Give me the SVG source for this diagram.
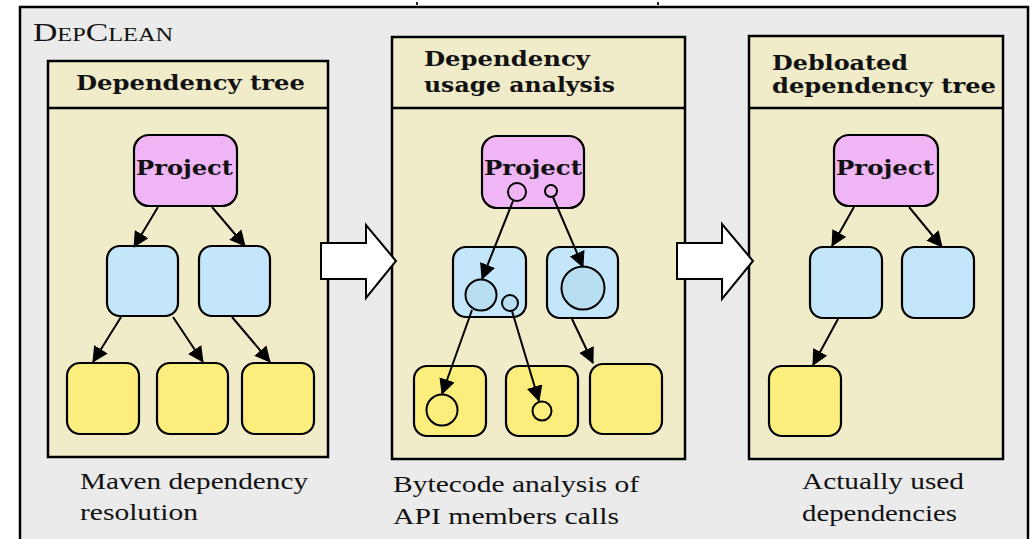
<svg xmlns="http://www.w3.org/2000/svg" width="1033" height="539" viewBox="0 0 1033 539">
  <defs>
    <style>
      .frame { fill: #ebebeb; stroke: #000; stroke-width: 2.5; }
      .panel { fill: #f0ecca; stroke: #000; stroke-width: 2.5; }
      .sep { stroke: #000; stroke-width: 2.5; }
      .proj { fill: #f0b5f5; stroke: #000; stroke-width: 2.2; }
      .mod { fill: #c4e6fa; stroke: #000; stroke-width: 2.2; }
      .leaf { fill: #fbee7c; stroke: #000; stroke-width: 2.2; }
      .c-proj { fill: #f0b5f5; stroke: #000; stroke-width: 2; }
      .c-mod { fill: #b8def2; stroke: #000; stroke-width: 2; }
      .c-leaf { fill: #fbee7c; stroke: #000; stroke-width: 2; }
      .edge { fill: none; stroke: #000; stroke-width: 2; marker-end: url(#head); }
      .step { fill: #fff; stroke: #000; stroke-width: 2; stroke-linejoin: miter; }
      .head { font-family: "DejaVu Serif", "Liberation Serif", serif; font-weight: bold; font-size: 21px; fill: #111; }
      .lbl { font-family: "DejaVu Serif", "Liberation Serif", serif; font-weight: bold; font-size: 20px; fill: #111; }
      .cap { font-family: "Liberation Serif", serif; font-size: 24px; fill: #111; }
      .title { font-family: "Liberation Serif", serif; font-size: 25px; font-variant: small-caps; fill: #111; }
    </style>
    <marker id="head" markerUnits="userSpaceOnUse" viewBox="0 0 16 16" refX="15" refY="8" markerWidth="16" markerHeight="16" orient="auto">
      <path d="M0,0 L16,8 L0,16 Z" fill="#000"/>
    </marker>
  </defs>

  <!-- outer tool frame -->
  <g id="depclean">
    <rect class="frame" x="20" y="7" width="1008" height="545"/>
    <text class="title" x="33" y="41" textLength="140" lengthAdjust="spacingAndGlyphs">DepClean</text>
    <rect x="416" y="2" width="2" height="3" fill="#222"/>
    <rect x="657" y="2" width="2" height="3" fill="#222"/>
  </g>

  <!-- stage 1: dependency tree -->
  <g id="panel-tree">
    <rect class="panel" x="48" y="61" width="280" height="396"/>
    <line class="sep" x1="48" y1="108" x2="328" y2="108"/>
    <text class="head" x="76" y="90" textLength="229" lengthAdjust="spacingAndGlyphs">Dependency tree</text>
    <text class="cap" x="80" y="489" textLength="228" lengthAdjust="spacingAndGlyphs">Maven dependency</text>
    <text class="cap" x="80" y="520" textLength="118" lengthAdjust="spacingAndGlyphs">resolution</text>
  </g>

  <!-- stage 2: usage analysis -->
  <g id="panel-usage">
    <rect class="panel" x="392" y="37" width="293" height="422"/>
    <line class="sep" x1="392" y1="108" x2="685" y2="108"/>
    <text class="head" x="424" y="66" textLength="166" lengthAdjust="spacingAndGlyphs">Dependency</text>
    <text class="head" x="424" y="92" textLength="191" lengthAdjust="spacingAndGlyphs">usage analysis</text>
    <text class="cap" x="393" y="492" textLength="246" lengthAdjust="spacingAndGlyphs">Bytecode analysis of</text>
    <text class="cap" x="393" y="524" textLength="226" lengthAdjust="spacingAndGlyphs">API members calls</text>
  </g>

  <!-- stage 3: debloated tree -->
  <g id="panel-debloated">
    <rect class="panel" x="749" y="36" width="254" height="423"/>
    <line class="sep" x1="749" y1="108" x2="1003" y2="108"/>
    <text class="head" x="772" y="70" textLength="136" lengthAdjust="spacingAndGlyphs">Debloated</text>
    <text class="head" x="772" y="93" textLength="224" lengthAdjust="spacingAndGlyphs">dependency tree</text>
    <text class="cap" x="802" y="489" textLength="162" lengthAdjust="spacingAndGlyphs">Actually used</text>
    <text class="cap" x="802" y="521" textLength="155" lengthAdjust="spacingAndGlyphs">dependencies</text>
  </g>

  <!-- stage 1 nodes -->
  <g id="t-project">
    <rect class="proj" x="134" y="135" width="103" height="71" rx="15"/>
    <text class="lbl" x="136" y="175" textLength="97" lengthAdjust="spacingAndGlyphs">Project</text>
  </g>
  <g id="t-dep-a"><rect class="mod" x="107" y="246" width="71" height="70" rx="13"/></g>
  <g id="t-dep-b"><rect class="mod" x="199" y="246" width="71" height="70" rx="13"/></g>
  <g id="t-trans-a"><rect class="leaf" x="67" y="363" width="72" height="71" rx="13"/></g>
  <g id="t-trans-b"><rect class="leaf" x="157" y="363" width="71" height="71" rx="13"/></g>
  <g id="t-trans-c"><rect class="leaf" x="242" y="363" width="72" height="71" rx="13"/></g>

  <!-- stage 2 nodes -->
  <g id="u-project">
    <rect class="proj" x="482" y="136" width="102" height="72" rx="15"/>
    <text class="lbl" x="484" y="175" textLength="98" lengthAdjust="spacingAndGlyphs">Project</text>
    <circle class="c-proj" cx="517" cy="192" r="9"/>
    <circle class="c-proj" cx="551" cy="191" r="6"/>
  </g>
  <g id="u-dep-a">
    <rect class="mod" x="453" y="247" width="73" height="70" rx="13"/>
    <circle class="c-mod" cx="481" cy="295" r="15.5"/>
    <circle class="c-mod" cx="510" cy="303" r="8"/>
  </g>
  <g id="u-dep-b">
    <rect class="mod" x="547" y="247" width="71" height="71" rx="13"/>
    <circle class="c-mod" cx="583" cy="288" r="21.5"/>
  </g>
  <g id="u-trans-a">
    <rect class="leaf" x="414" y="366" width="72" height="70" rx="13"/>
    <circle class="c-leaf" cx="442" cy="410" r="15.5"/>
  </g>
  <g id="u-trans-b">
    <rect class="leaf" x="506" y="366" width="72" height="70" rx="13"/>
    <circle class="c-leaf" cx="542" cy="411" r="9.5"/>
  </g>
  <g id="u-trans-c"><rect class="leaf" x="590" y="364" width="72" height="70" rx="13"/></g>

  <!-- stage 3 nodes -->
  <g id="d-project">
    <rect class="proj" x="834" y="135" width="104" height="71" rx="15"/>
    <text class="lbl" x="836" y="175" textLength="98" lengthAdjust="spacingAndGlyphs">Project</text>
  </g>
  <g id="d-dep-a"><rect class="mod" x="810" y="247" width="72" height="71" rx="13"/></g>
  <g id="d-dep-b"><rect class="mod" x="902" y="247" width="72" height="71" rx="13"/></g>
  <g id="d-trans-a"><rect class="leaf" x="769" y="366" width="72" height="70" rx="13"/></g>

  <!-- dependency and call edges -->
  <g id="connectors">
    <line class="edge" x1="158" y1="207" x2="134" y2="247"/>
    <line class="edge" x1="212" y1="207" x2="245" y2="246"/>
    <line class="edge" x1="121" y1="317" x2="93" y2="362"/>
    <line class="edge" x1="173" y1="317" x2="203" y2="362"/>
    <line class="edge" x1="232" y1="317" x2="270" y2="362"/>

    <line class="edge" x1="513" y1="201" x2="482" y2="279"/>
    <line class="edge" x1="553" y1="197" x2="583" y2="267"/>
    <line class="edge" x1="472" y1="310" x2="442" y2="394"/>
    <line class="edge" x1="512" y1="311" x2="539" y2="401"/>
    <line class="edge" x1="572" y1="319" x2="593" y2="363"/>

    <line class="edge" x1="854" y1="207" x2="832" y2="246"/>
    <line class="edge" x1="909" y1="207" x2="942" y2="247"/>
    <line class="edge" x1="838" y1="319" x2="813" y2="365"/>

    <!-- stage transitions -->
    <path class="step" d="M321,243 L366,243 L366,225 L396,261 L366,298 L366,279 L321,279 Z"/>
    <path class="step" d="M677,243 L722,243 L722,224 L753,261 L722,299 L722,279 L677,279 Z"/>
  </g>
</svg>
